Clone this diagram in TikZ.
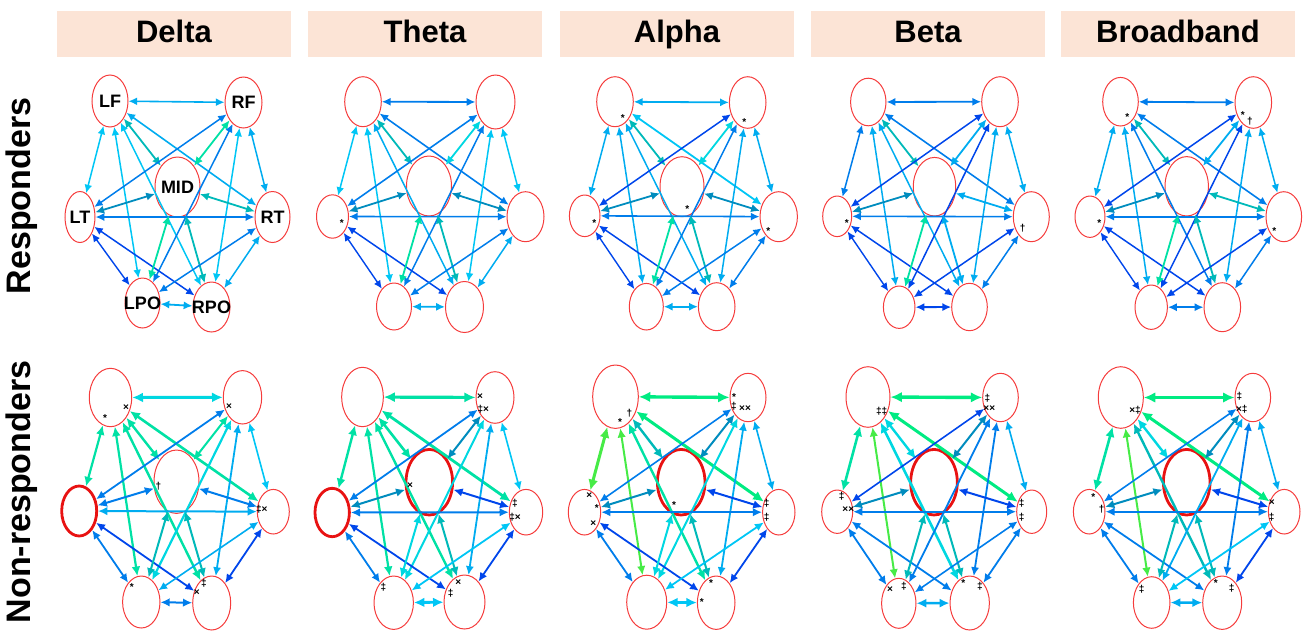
\documentclass[tikz,border=0pt]{standalone}
\usepackage{fontspec}
\setmainfont{Liberation Sans}
\usetikzlibrary{shapes.geometric,arrows.meta}

\definecolor{peach}{RGB}{252,228,214}
\definecolor{roired}{RGB}{245,60,60}
\definecolor{roidark}{RGB}{232,18,18}
% connector palette, from deep blue to light green
\definecolor{eB1}{RGB}{0,70,235}
\definecolor{eB2}{RGB}{0,125,235}
\definecolor{eB3}{RGB}{0,172,240}
\definecolor{eB4}{RGB}{0,198,245}
\definecolor{eCy}{RGB}{0,215,225}
\definecolor{eTb}{RGB}{0,140,190}
\definecolor{eTe}{RGB}{0,185,185}
\definecolor{eGt}{RGB}{0,225,165}
\definecolor{eGr}{RGB}{0,235,130}
\definecolor{eLg}{RGB}{70,235,70}

\tikzset{
  roi/.style={ellipse,draw=roired,line width=1pt,inner sep=0pt},
  roibold/.style={draw=roidark,line width=2.8pt},
  link/.style={arrows={Latex[length=6pt 1.6,width=5.5pt 1.5]-Latex[length=6pt 1.6,width=5.5pt 1.5]}},
  hdr/.style={fill=peach,minimum width=234pt,minimum height=46pt,inner sep=0pt,
              text height=22pt,text depth=6pt,
              font=\bfseries\fontsize{31}{34}\selectfont},
  side/.style={rotate=90,font=\bfseries\fontsize{34}{36}\selectfont},
  lbl/.style={font=\bfseries\fontsize{18}{20}\selectfont,inner sep=0pt},
  mk/.style={font=\bfseries\fontsize{10}{10}\selectfont,inner sep=0pt}
}

% one region of interest: [extra style]{name}{x}{y}{x radius}{y radius}
\newcommand\roinode[6][]{\node[roi,minimum width={2*#5 pt},minimum height={2*#6 pt},#1] (#2) at (#3,#4) {};}

% the 21 region pairs, always in this order
\def\pairsA{"LF","LF","LF","LF","LF","LF","RF","RF","RF","RF","RF","LT","LT","LT","LT","MID","MID","MID","RT","RT","LPO"}
\def\pairsB{"RF","LT","MID","RT","LPO","RPO","LT","MID","RT","LPO","RPO","MID","RT","LPO","RPO","RT","LPO","RPO","LPO","RPO","RPO"}

% all connectors of one network: {prefix}{colour/width list in pair order}
\newcommand\panelwires[2]{%
  \foreach \c/\w [count=\k from 0] in {#2}{%
    \pgfmathsetmacro\ea{{\pairsA}[\k]}%
    \pgfmathsetmacro\eb{{\pairsB}[\k]}%
    \draw[link,draw=\c,line width=\w pt] (#1\ea) -- (#1\eb);
  }}

\begin{document}
\begin{tikzpicture}[x=1pt,y=-1pt]
\useasboundingbox (0,0) rectangle (1310,630);

% column headings
\node[hdr] (hDelta) at (174,34) {Delta};
\node[hdr] (hTheta) at (425,34) {Theta};
\node[hdr] (hAlpha) at (677,34) {Alpha};
\node[hdr] (hBeta)  at (928,34) {Beta};
\node[hdr] (hBroad) at (1178,34) {Broadband};

% row headings
\node[side] (sResp) at (22,196) {Responders};
\node[side] (sNon)  at (22,492) {Non-responders};

% ---------- Responders ----------
% Delta
\roinode[label={[lbl]center:LF}]{r1aLF}{110}{101}{18}{26}
\roinode[label={[lbl]center:RF}]{r1aRF}{243.5}{102.5}{18.5}{25.5}
\roinode[label={[lbl]center:MID}]{r1aMID}{177.5}{187}{22.5}{30}
\roinode[label={[lbl]center:LT}]{r1aLT}{80}{217}{15}{25.5}
\roinode[label={[lbl]center:RT}]{r1aRT}{272.5}{217}{17.5}{25.5}
\roinode[label={[lbl]center:LPO}]{r1aLPO}{142.5}{303}{17.5}{25}
\roinode[label={[lbl]center:RPO}]{r1aRPO}{211.5}{307}{18.5}{25}
% Theta
\roinode{r1bLF}{363}{101.7}{18.3}{25}
\roinode{r1bRF}{495.5}{102}{19.5}{27}
\roinode{r1bMID}{429}{186}{22.5}{30}
\roinode{r1bLT}{332.5}{216.5}{16}{21.7}
\roinode{r1bRT}{525.5}{216.7}{18.5}{25}
\roinode{r1bLPO}{394}{306.5}{17.5}{23.5}
\roinode{r1bRPO}{464.5}{307}{19}{25.5}
% Alpha
\roinode{r1cLF}{615}{101.7}{18.3}{25}
\roinode{r1cRF}{747.7}{102.5}{18.3}{25.8}
\roinode{r1cMID}{682}{186.7}{22}{30}
\roinode{r1cLT}{584.7}{215.8}{15.3}{20.8}
\roinode{r1cRT}{778.7}{216.7}{18.7}{25}
\roinode{r1cLPO}{646.3}{306.7}{17}{23.3}
\roinode{r1cRPO}{716.7}{306.7}{18.3}{24}
% Beta
\roinode{r1dLF}{868.3}{102}{17.7}{23.8}
\roinode{r1dRF}{1000}{101.7}{18.3}{25}
\roinode{r1dMID}{934.5}{186.7}{21.2}{29.3}
\roinode{r1dLT}{837.2}{216.3}{14.5}{20.3}
\roinode{r1dRT}{1031.3}{216.7}{18}{25}
\roinode{r1dLPO}{899.2}{307.2}{15.8}{21.2}
\roinode{r1dRPO}{969.5}{307}{17.8}{23.7}
% Broadband
\roinode{r1eLF}{1120.5}{101.7}{17.8}{24.3}
\roinode{r1eRF}{1253.3}{102.5}{18.3}{25.8}
\roinode{r1eMID}{1186.7}{186.3}{21.7}{29.7}
\roinode{r1eLT}{1090}{216.7}{15}{20.7}
\roinode{r1eRT}{1283.8}{216.7}{17.8}{25}
\roinode{r1eLPO}{1151.2}{307.2}{16.2}{22.2}
\roinode{r1eRPO}{1222.3}{307.2}{18.3}{24.5}

% ---------- Non-responders ----------
% Delta
\roinode{r2aLF}{110.5}{397.5}{21.2}{29.2}
\roinode{r2aRF}{242.5}{397.3}{19.2}{26.7}
\roinode{r2aMID}{176.5}{481.7}{22.5}{31.7}
\roinode[roibold]{r2aLT}{79.2}{511}{17.5}{25}
\roinode{r2aRT}{273.3}{511.7}{16}{22.3}
\roinode{r2aLPO}{141.3}{602}{18.7}{26}
\roinode{r2aRPO}{211.7}{603}{19}{27}
% Theta
\roinode{r2bLF}{362.5}{397}{20.8}{29.7}
\roinode{r2bRF}{495}{397.5}{19}{25.8}
\roinode[roibold]{r2bMID}{429.3}{482.2}{23.3}{32.8}
\roinode[roibold]{r2bLT}{332.2}{512.5}{17.2}{24.2}
\roinode{r2bRT}{526}{512.2}{16.7}{22.8}
\roinode{r2bLPO}{393.7}{602.7}{19.7}{26.7}
\roinode{r2bRPO}{464.5}{602}{20.5}{27}
% Alpha
\roinode{r2cLF}{615.5}{396.7}{22.8}{31.7}
\roinode{r2cRF}{748}{397.5}{18}{24.2}
\roinode[roibold]{r2cMID}{681.2}{482.2}{23.8}{32.8}
\roinode{r2cLT}{584.5}{512.2}{16.2}{22.8}
\roinode{r2cRT}{778.8}{512.2}{16.2}{22.8}
\roinode{r2cLPO}{646.7}{602.2}{20}{27}
\roinode{r2cRPO}{716.2}{602.7}{18.8}{26.7}
% Beta
\roinode{r2dLF}{868}{397}{22}{30.3}
\roinode{r2dRF}{1000.5}{397.5}{17.8}{24.2}
\roinode[roibold]{r2dMID}{934}{482.2}{23.3}{32.8}
\roinode{r2dLT}{837.2}{511.7}{15.5}{21.7}
\roinode{r2dRT}{1031.7}{511.7}{15}{21.7}
\roinode{r2dLPO}{898.8}{603.3}{17.2}{25}
\roinode{r2dRPO}{969.7}{603}{19.7}{27}
% Broadband
\roinode{r2eLF}{1120.8}{397.5}{22.5}{30.8}
\roinode{r2eRF}{1252.8}{397.5}{17.8}{24.2}
\roinode[roibold]{r2eMID}{1186.7}{482.2}{23.3}{32.8}
\roinode{r2eLT}{1089.2}{511.7}{15.8}{22.3}
\roinode{r2eRT}{1284.2}{511.7}{15.8}{22.3}
\roinode{r2eLPO}{1151.7}{602.5}{18.3}{25.8}
\roinode{r2eRPO}{1222.2}{602.7}{19.5}{26.7}

% ---------- connectors ----------
\panelwires{r1a}{eB3/1.6,eB4/1.5,eTe/1.8,eB3/1.6,eB4/1.5,eB4/1.5,eB2/1.5,eGt/1.8,eB3/1.5,eB2/1.5,eB4/1.5,eTb/1.8,eB2/1.8,eB1/1.4,eB1/1.5,eTe/1.8,eGt/1.8,eTe/1.8,eB2/1.5,eB3/1.5,eB3/1.8}
\panelwires{r1b}{eB2/1.8,eB4/1.5,eTe/1.8,eB2/1.6,eB4/1.5,eB3/1.5,eB2/1.6,eCy/1.8,eB4/1.5,eB2/1.5,eB4/1.5,eTb/1.8,eB2/1.6,eB1/1.4,eB1/1.5,eTb/1.8,eGt/1.8,eTe/1.8,eB2/1.5,eB3/1.5,eB3/1.8}
\panelwires{r1c}{eB3/1.8,eB3/1.5,eTe/1.8,eB4/1.8,eB3/1.5,eB3/1.5,eB1/1.5,eCy/1.8,eB3/1.5,eB2/1.5,eB3/1.5,eTb/1.8,eB2/1.6,eB1/1.4,eB1/1.5,eTb/1.8,eGt/1.8,eTe/1.8,eB2/1.5,eB2/1.5,eB3/1.8}
\panelwires{r1d}{eB2/1.8,eB2/1.5,eTe/1.8,eB2/1.6,eB3/1.5,eB3/1.5,eB1/1.5,eB3/1.8,eB3/1.5,eB1/1.5,eB3/1.5,eTb/1.8,eB2/1.6,eB1/1.4,eB1/1.5,eB3/1.8,eGt/1.8,eB3/1.8,eB1/1.5,eB2/1.5,eB1/1.8}
\panelwires{r1e}{eB2/1.8,eB3/1.5,eTe/1.8,eB2/1.6,eB3/1.5,eB2/1.5,eB1/1.5,eB3/1.8,eB3/1.5,eB1/1.5,eB3/1.5,eTb/1.8,eB2/1.6,eB1/1.4,eB1/1.5,eTe/1.8,eGt/1.8,eTe/1.8,eB1/1.5,eB2/1.5,eB2/1.8}

\panelwires{r2a}{eCy/3,eGt/2.2,eGt/2.4,eGt/2.6,eGt/2.2,eGt/2.4,eB2/1.8,eGt/2,eB4/1.6,eCy/2.2,eB3/1.8,eB2/2,eB3/2,eB2/1.8,eB1/1.8,eB2/2,eTe/2,eTe/2,eB3/1.6,eB1/1.8,eB2/2}
\panelwires{r2b}{eGt/3.2,eGt/2.4,eGt/2.6,eGt/2.8,eGt/2.2,eGt/2.4,eB2/1.8,eTb/2,eB4/1.6,eCy/2,eB3/1.8,eTb/2,eB2/2,eB2/1.8,eB1/1.8,eB1/2,eCy/2,eTe/2,eB4/1.8,eB1/1.8,eB4/2.8}
\panelwires{r2c}{eGr/3.4,eLg/3,eTe/2.4,eGr/3,eLg/2,eGt/2.4,eB2/1.6,eTb/2,eB3/1.6,eCy/2,eB3/1.8,eTb/2,eB2/2,eB2/1.8,eB1/1.8,eB1/2,eCy/2,eTe/2,eB4/1.8,eB1/1.8,eB4/2.8}
\panelwires{r2d}{eGr/3.4,eGt/2.6,eCy/2.4,eGr/3,eLg/2,eCy/2.6,eB1/1.6,eTb/2,eB3/1.6,eB2/1.8,eB2/1.8,eTb/2,eB2/2,eB2/1.8,eB2/1.8,eB1/2,eTe/2,eTe/2,eB2/1.6,eB2/1.8,eB3/2.4}
\panelwires{r2e}{eGr/3.4,eGt/2.6,eCy/2.4,eGr/3,eLg/2,eTe/2.4,eB2/1.6,eTb/2,eB3/1.6,eB3/1.8,eB2/1.8,eTb/2,eB2/2,eB2/1.8,eB2/1.8,eB1/2,eTe/2,eTe/2,eB4/1.8,eB1/1.8,eB3/2.4}

% ---------- significance marks ----------
\foreach \x/\y/\t [count=\i] in {
  341.7/223.3/*, 622.7/118.3/*, 744.3/121.7/*, 687.3/209.3/*, 594.3/223.3/*, 768.3/230.7/*,
  846.7/222.7/*, 1022.7/228.3/†, 1127.3/116.7/*, 1242.7/115/*, 1250/121/†, 1099.3/222.7/*, 1274.3/230.7/*,
  105/418.3/*, 126/407.3/×, 229/406.7/×, 158.3/486.7/†, 261.7/509.3/‡×, 131.7/587.3/*, 204/583.3/‡, 196.7/592.7/×,
  480/396.7/×, 483.3/409.3/‡×, 410/486/×, 515/503/‡, 515/517/‡×, 383.3/587.3/‡, 458.3/582.3/×, 450.7/593.3/‡,
  620/421.7/*, 629.3/413.3/†, 734/397/*, 734/406/‡, 745/409/××, 674/505/*, 589.3/496/×, 596.7/508.3/*, 593.3/523.3/×,
  766.7/503/‡, 766.7/517/‡, 711/583.3/*, 701.7/601.7/*,
  881.7/411.7/‡‡, 987.3/398.3/‡, 989.3/408.3/××, 841.7/496.7/‡, 848.3/510/××, 1021.7/503/‡, 1021.7/517/‡,
  890/589.3/×, 904/586.7/‡, 963.3/583.3/*, 980/586.7/‡,
  1135/410/×‡, 1239.3/396.7/‡, 1241.7/409.3/×‡, 1093.3/496.7/*, 1101.7/509.3/†, 1271.7/503/×, 1271.7/517/‡,
  1141.7/589.3/‡, 1215.7/583.3/*, 1231.7/588.3/‡}
  \node[mk] (mark\i) at (\x,\y) {\t};

\end{tikzpicture}
\end{document}
